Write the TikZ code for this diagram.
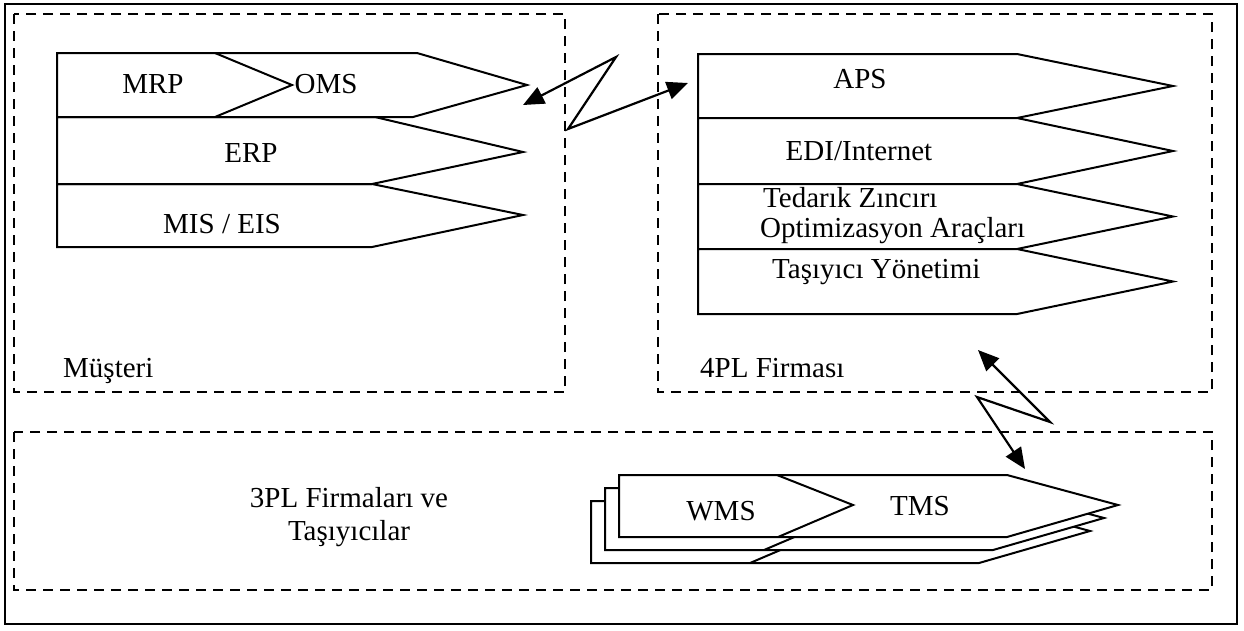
\documentclass[tikz,border=0pt]{standalone}
\usepackage{fontspec}
\setmainfont{Liberation Serif}
\usetikzlibrary{arrows.meta}
\begin{document}
\begin{tikzpicture}[x=1pt,y=-1pt,
  frame/.style={line width=1.8pt},
  grp/.style={line width=2.2pt, dash pattern=on 10pt off 7pt},
  chev/.style={line width=2pt, line join=miter, fill=white},
  lbl/.style={font=\fontsize{29}{33}\selectfont, inner sep=0pt, anchor=base},
  lblw/.style={lbl, anchor=base west},
  bolt/.style={line width=2.2pt, line join=miter,
    {Triangle[length=21pt,width=18pt]}-{Triangle[length=21pt,width=18pt]}}
]
\useasboundingbox (0,0) rectangle (1244,630);
% outer frame and groups
\draw[frame] (5,4) rectangle (1237,624);
\draw[grp] (14,14) rectangle (565,392);
\draw[grp] (658,14) rectangle (1212,392);
\draw[grp] (14,432) rectangle (1212,590);

% left chevrons (Musteri)
\draw[chev] (57,184) -- (372,184) -- (523,215) -- (372,247) -- (57,247) -- cycle;
\draw[chev] (57,117) -- (375,117) -- (523,152) -- (372,184) -- (57,184) -- cycle;
\draw[chev] (57,53) -- (417,53) -- (527,85) -- (413,117) -- (57,117) -- cycle;
\draw[chev, fill=none] (215,53) -- (292,85) -- (215,117);

\node[lbl] (mrp) at (153,93) {MRP};
\node[lbl] (oms) at (326,93) {OMS};
\node[lbl] (erp) at (251,162) {ERP};
\node[lbl] (mis) at (222,233) {MIS / EIS};
\node[lblw] (must) at (63,377) {Müşteri};

% right chevrons (4PL)
\foreach \t/\b in {54/118, 118/184, 184/249, 249/314}{
  \draw[chev] (698,\t) -- (1017,\t) -- (1173,{(\t+\b)/2}) -- (1017,\b) -- (698,\b) -- cycle;
}
\node[lbl] (aps) at (860,88) {APS};
\node[lbl] (edi) at (859,160) {EDI/Internet};
\node[lblw] (ted1) at (763,207) {Tedarık Zıncırı};
\node[lblw] (ted2) at (760,237) {Optimizasyon Araçları};
\node[lblw] (tas) at (772,278) {Taşıyıcı Yönetimi};
\node[lblw] (fpl) at (700,377) {4PL Firması};

% bottom stacked chevrons (3PL)
\foreach \dx/\dy in {-28/26, -14/13, 0/0}{
  \begin{scope}[shift={(\dx,\dy)}]
    \draw[chev] (619,475) -- (1007,475) -- (1118,505) -- (1007,537) -- (619,537) -- cycle;
    \draw[chev, fill=none] (777,475) -- (853,505) -- (778,537);
  \end{scope}
}
\node[lbl] (wms) at (721,520) {WMS};
\node[lbl] (tms) at (920,515) {TMS};
\node[lbl] (tpl1) at (349,507) {3PL Firmaları ve};
\node[lbl] (tpl2) at (349,540) {Taşıyıcılar};

% lightning connectors
\coordinate (a1) at (523,105);
\coordinate (a2) at (616,57);
\coordinate (a3) at (568,129);
\coordinate (a4) at (688,83);
\draw[bolt] (a1) -- (a2) -- (a3) -- (a4);

\coordinate (b1) at (978,350);
\coordinate (b2) at (1050,422);
\coordinate (b3) at (977,397);
\coordinate (b4) at (1025,469);
\draw[bolt] (b1) -- (b2) -- (b3) -- (b4);
\end{tikzpicture}
\end{document}
